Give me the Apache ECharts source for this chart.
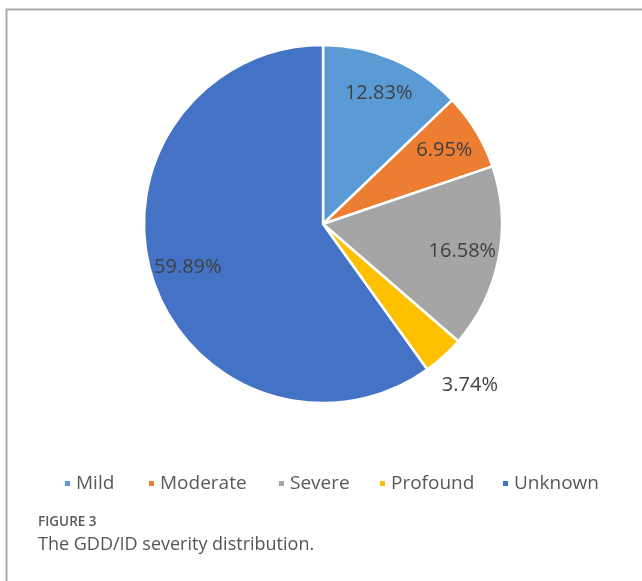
<!DOCTYPE html>
<html>
<head>
<meta charset="utf-8">
<title>GDD/ID severity distribution</title>
<script src="https://cdn.jsdelivr.net/npm/echarts@6/dist/echarts.min.js"></script>
<style>
  html, body { margin: 0; padding: 0; background: #ffffff; }
  #chart { width: 642px; height: 581px; }
</style>
</head>
<body>
<div id="chart"></div>
<script>
// Severity groups and their share of patients (%)
const categories = ['Mild', 'Moderate', 'Severe', 'Profound', 'Unknown'];
const percentages = [12.83, 6.95, 16.58, 3.74, 59.89];
// Slices whose value label sits outside the pie
const outsideLabels = ['Profound'];

const palette = ['#5b9bd5', '#ed7d31', '#a5a5a5', '#ffc000', '#4472c4'];
const fontFamily = '"Open Sans", "Liberation Sans", sans-serif';
const center = [323, 224];
const pieRadius = 179;
// Left edge of each legend entry's marker
const legendLeft = [58, 142, 272, 373, 496];

const labelStyle = {
  fontFamily: fontFamily,
  fontSize: 20,
  color: '#404040'
};

const pieData = categories.map((name, i) => ({
  name: name,
  value: percentages[i],
  itemStyle: { color: palette[i] }
}));

// Transparent rings used only to place the value labels
function labelRing(radius, showFn) {
  return {
    type: 'pie',
    silent: true,
    center: center,
    radius: radius,
    startAngle: 90,
    clockwise: true,
    avoidLabelOverlap: false,
    legendHoverLink: false,
    itemStyle: { color: 'transparent', borderWidth: 0 },
    labelLine: { show: false },
    emphasis: { disabled: true },
    data: categories.map((name, i) => ({
      name: name,
      value: percentages[i],
      label: Object.assign({
        show: showFn(name),
        position: 'inside',
        formatter: p => p.value.toFixed(2) + '%'
      }, labelStyle)
    }))
  };
}

// One legend block per category so each entry keeps its own spacing
const legends = categories.map((name, i) => ({
  data: [name],
  left: legendLeft[i],
  top: 469,
  icon: 'rect',
  itemWidth: 7,
  itemHeight: 7,
  textStyle: { fontFamily: fontFamily, fontSize: 19, color: '#595959' },
  selectedMode: false
}));

const chart = echarts.init(document.getElementById('chart'), null, { renderer: 'canvas' });

chart.setOption({
  backgroundColor: '#ffffff',
  animation: false,
  legend: legends,
  series: [
    {
      type: 'pie',
      center: center,
      radius: [0, pieRadius],
      startAngle: 90,
      clockwise: true,
      avoidLabelOverlap: false,
      itemStyle: { borderColor: '#ffffff', borderWidth: 2.5 },
      label: { show: false },
      labelLine: { show: false },
      emphasis: { disabled: true },
      data: pieData
    },
    labelRing([100, 178], name => outsideLabels.indexOf(name) < 0),
    labelRing([198, 232], name => outsideLabels.indexOf(name) >= 0)
  ],
  graphic: [
    {
      type: 'polyline',
      silent: true,
      shape: { points: [[6.5, 581], [6.5, 9.5], [642, 9.5]] },
      style: { stroke: '#aaaaaa', lineWidth: 2, fill: null }
    },
    {
      type: 'text',
      left: 38,
      top: 515,
      style: {
        text: 'FIGURE 3',
        fontFamily: fontFamily,
        fontSize: 13.5,
        fontWeight: 600,
        fill: '#5a5a5a'
      }
    },
    {
      type: 'text',
      left: 38,
      top: 536,
      style: {
        text: 'The GDD/ID severity distribution.',
        fontFamily: fontFamily,
        fontSize: 18,
        fill: '#555555'
      }
    }
  ]
});
</script>
</body>
</html>
